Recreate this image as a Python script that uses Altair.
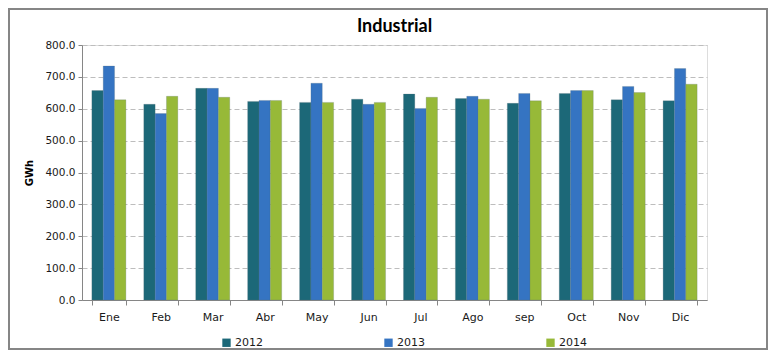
import altair as alt
import pandas as pd

months = ["Ene", "Feb", "Mar", "Abr", "May", "Jun", "Jul", "Ago", "sep", "Oct", "Nov", "Dic"]
years = ["2012", "2013", "2014"]
v2012 = [657, 614, 664, 623, 620, 630, 646, 632, 617, 648, 628, 625]
v2013 = [734, 585, 664, 626, 680, 614, 601, 639, 648, 657, 670, 726]
v2014 = [628, 639, 636, 626, 620, 620, 636, 630, 625, 657, 651, 677]
colors = ["#1c6878", "#3574c2", "#97b938"]
chart_title = "Industrial"

rows = []
for y, vals in zip(years, [v2012, v2013, v2014]):
    for m, v in zip(months, vals):
        rows.append({"Mes": m, "Año": y, "GWh": v})
df = pd.DataFrame(rows)

W, H = 625, 255
PL, PT, PR, PB = 74, 37, 61, 50

bars = alt.Chart(df).mark_bar(stroke="#5a6e78", strokeWidth=0.4, strokeOpacity=0.6).encode(
    x=alt.X("Mes:N", sort=months, title=None,
            scale=alt.Scale(paddingInner=0.345, paddingOuter=0.19),
            axis=alt.Axis(labelAngle=0, tickBand="extent", domainColor="#868686",
                          tickColor="#868686", tickSize=5, labelPadding=6,
                          labelFont="DejaVu Sans", labelFontSize=11, labelColor="#1a1a1a",
                          grid=False)),
    xOffset=alt.XOffset("Año:N", sort=years),
    y=alt.Y("GWh:Q", title="GWh",
            scale=alt.Scale(domain=[0, 800], nice=False),
            axis=alt.Axis(values=list(range(0, 801, 100)), format=".1f",
                          domainColor="#868686", tickColor="#868686", tickSize=4,
                          labelFont="DejaVu Sans", labelFontSize=10.5, labelColor="#1a1a1a",
                          labelPadding=3,
                          titleFont="DejaVu Sans", titleFontSize=10, titleFontWeight="bold",
                          titlePadding=10,
                          gridColor="#bdbdbd", gridDash=[5, 3], gridWidth=1)),
    color=alt.Color("Año:N", sort=years,
                    scale=alt.Scale(domain=years, range=colors),
                    legend=alt.Legend(title=None, orient="none", direction="horizontal",
                                      legendX=139, legendY=292, symbolType="square",
                                      symbolSize=70, symbolStrokeWidth=0,
                                      columnPadding=120, labelFont="DejaVu Sans",
                                      labelFontSize=11, labelColor="#1a1a1a", labelOffset=3)),
)

border = alt.Chart(df).mark_rect(fill=None, stroke="#868686", strokeWidth=1.5, clip=False).encode(
    x=alt.value(-PL + 1), x2=alt.value(W + PR - 1),
    y=alt.value(-PT + 1), y2=alt.value(H + PB - 1),
)

title = alt.Chart(pd.DataFrame({"t": [chart_title]})).mark_text(
    font="Lato", fontSize=18, fontWeight="bold", color="#000000",
    align="center", baseline="middle", clip=False,
).encode(x=alt.value(W / 2), y=alt.value(-18), text="t:N")

chart = alt.layer(border, bars, title).properties(
    width=W, height=H,
    autosize=alt.AutoSizeParams(type="none"),
    padding={"left": PL, "top": PT, "right": PR, "bottom": PB},
).configure_view(stroke=None).configure(background="#ffffff")

chart.save("out.html", embed_options={"renderer": "svg", "actions": False})
